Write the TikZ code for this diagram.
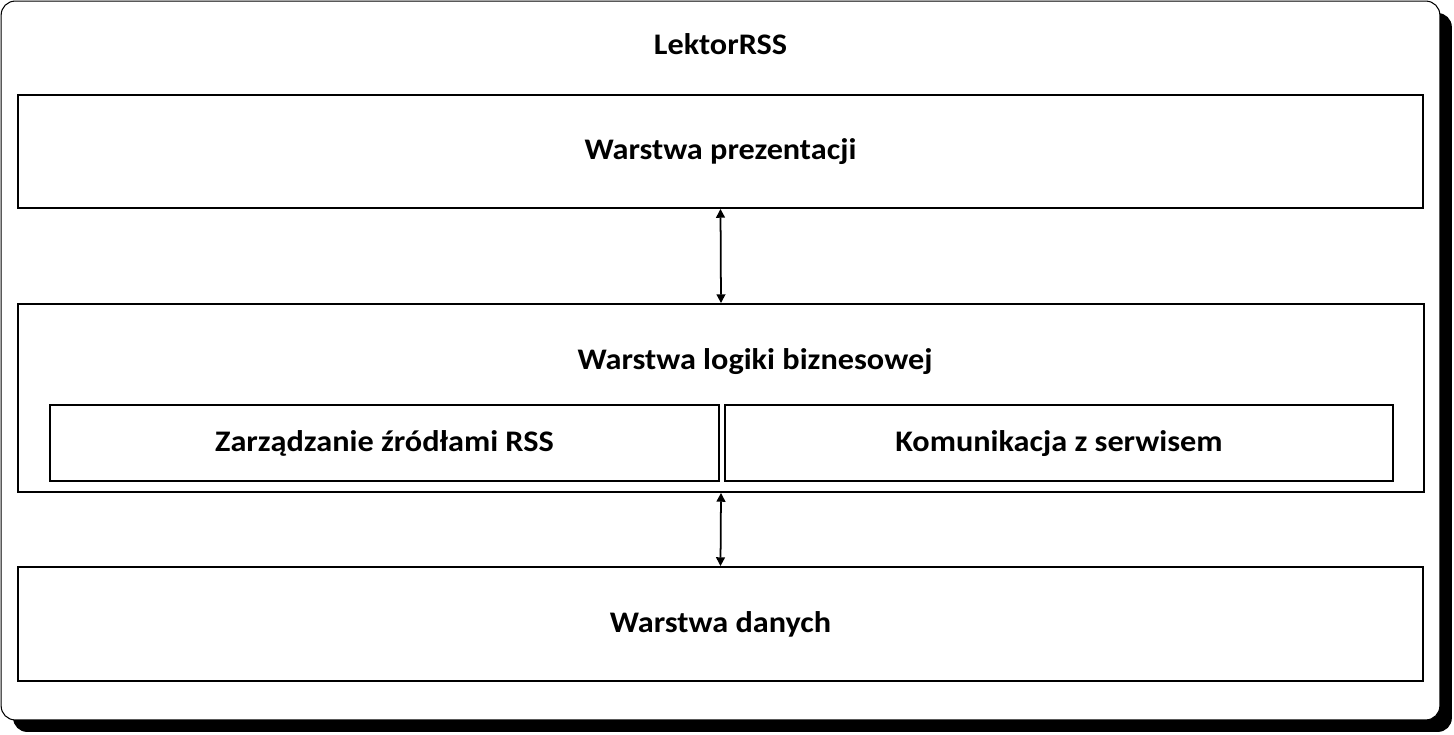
\documentclass[tikz,border=0pt]{standalone}
\usepackage{fontspec}
\setmainfont{Carlito}[FakeStretch=1.08]
\usetikzlibrary{positioning}
\usetikzlibrary{shapes,arrows.meta}

\tikzset{
  layer/.style={draw, line width=1.1pt, inner sep=0pt, text height=0.92em, text depth=0pt, font=\fontsize{17}{20}\selectfont\bfseries},
  caption/.style={inner sep=0pt, text height=0.92em, text depth=0pt, font=\fontsize{17}{20}\selectfont\bfseries},
  link/.style={{Triangle[width=5pt,length=5pt]}-{Triangle[width=5pt,length=5pt]}, line width=1pt}
}

\begin{document}
\begin{tikzpicture}[x=0.02cm, y=-0.02cm]
\useasboundingbox (0,0) rectangle (1454,734);

% outer frame with shadow
\node[fill=black, rounded corners=0.28cm, minimum width=28.78cm, minimum height=14.38cm] (shadow) at (732.5,372.5) {};
\node[draw, fill=white, line width=0.6pt, rounded corners=0.28cm, minimum width=28.78cm, minimum height=14.38cm] (frame) at (720.5,360.5) {};
\node[caption] (title) at (720.5,46) {LektorRSS};

% layers
\node[layer, minimum width=28.10cm, minimum height=2.26cm] (pres) at (720.5,151.5) {Warstwa prezentacji};
\node[layer, minimum width=28.12cm, minimum height=3.76cm] (logic) at (721,398) {};
\node[caption] (logictxt) at (755,361) {Warstwa logiki biznesowej};
\node[layer, minimum width=13.38cm, minimum height=1.52cm] (feeds) at (384.5,443) {Zarządzanie źródłami RSS};
\node[layer, minimum width=13.36cm, minimum height=1.52cm] (comm) at (1059,443) {Komunikacja z serwisem};
\node[layer, minimum width=28.10cm, minimum height=2.28cm] (data) at (720.5,624) {Warstwa danych};

\draw[link] (pres.south) -- (logic.north);
\draw[link] (logic.south) -- (data.north);

\end{tikzpicture}
\end{document}
